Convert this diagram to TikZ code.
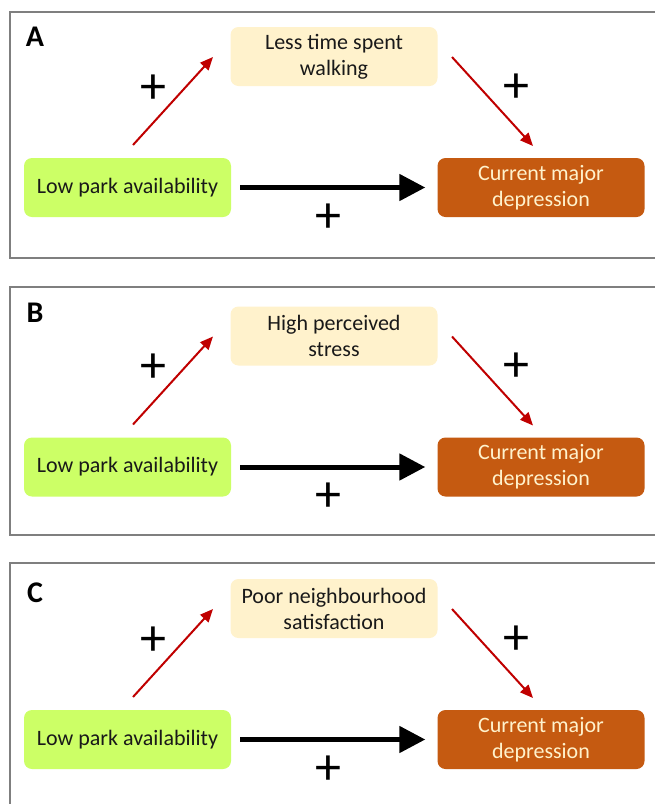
\documentclass[tikz,border=0pt]{standalone}
\usepackage{fontspec}
\setmainfont{Carlito}
\usetikzlibrary{arrows.meta}
\definecolor{lime}{HTML}{CCFF66}
\definecolor{cream}{HTML}{FFF2CC}
\definecolor{rust}{HTML}{C55A11}
\definecolor{darkred}{HTML}{C00000}
\definecolor{framegray}{HTML}{7F7F7F}
\definecolor{boxtext}{HTML}{FFF2CC}
\tikzset{
  box/.style={rounded corners=8pt, minimum width=207pt, minimum height=59pt, inner sep=0pt, align=center, font=\fontsize{22}{26}\selectfont},
  greenbox/.style={box, fill=lime, text=black!90},
  yellowbox/.style={box, fill=cream, text=black!90},
  orangebox/.style={box, fill=rust, text=boxtext},
  plussign/.style={font=\fontsize{52}{52}\selectfont, inner sep=0pt},
  redarrow/.style={draw=darkred, line width=2pt, -{Triangle[length=13pt,width=11pt]}},
  mainarrow/.style={line width=5pt, -{Triangle[length=26pt,width=26pt]}, shorten <=9pt, shorten >=12pt},
  frame/.style={draw=framegray, line width=1.3pt},
  paneltag/.style={font=\fontsize{30}{30}\selectfont\bfseries, inner sep=0pt}
}
\newcommand\mypanel[4]{%
  \node[paneltag] (tag#1) at (35,#3) {#1};
  \node[greenbox] (g#1) at (127.5,#2+187.5) {Low park availability};
  \node[yellowbox] (y#1) at (334,#2+56.5) {#4};
  \node[orangebox] (o#1) at (541,#2+187.5) {Current major\\depression};
  \coordinate (ras#1) at (133,#2+145);
  \coordinate (rae#1) at (213,#2+57);
  \coordinate (rbs#1) at (452,#2+57);
  \coordinate (rbe#1) at (533,#2+146);
  \draw[redarrow] (ras#1) -- (rae#1);
  \draw[redarrow] (rbs#1) -- (rbe#1);
  \draw[mainarrow] (g#1.east) -- (o#1.west);
  \node[plussign] (pa#1) at (153,#2+89) {+};
  \node[plussign] (pb#1) at (516,#2+88) {+};
  \node[plussign] (pc#1) at (328,#2+218) {+};
}
\begin{document}
\begin{tikzpicture}[x=1pt,y=-1pt]
\clip (0,0) rectangle (655,804);
\fill[white] (0,0) rectangle (655,804);
\draw[frame] (10,12) rectangle (680,258);
\draw[frame] (10,287) rectangle (680,535);
\draw[frame] (10,563) rectangle (680,830);
\mypanel{A}{0}{37}{Less time spent\\walking}
\mypanel{B}{279.5}{313}{High perceived\\stress}
\mypanel{C}{552}{593}{Poor neighbourhood\\satisfaction}
\end{tikzpicture}
\end{document}
